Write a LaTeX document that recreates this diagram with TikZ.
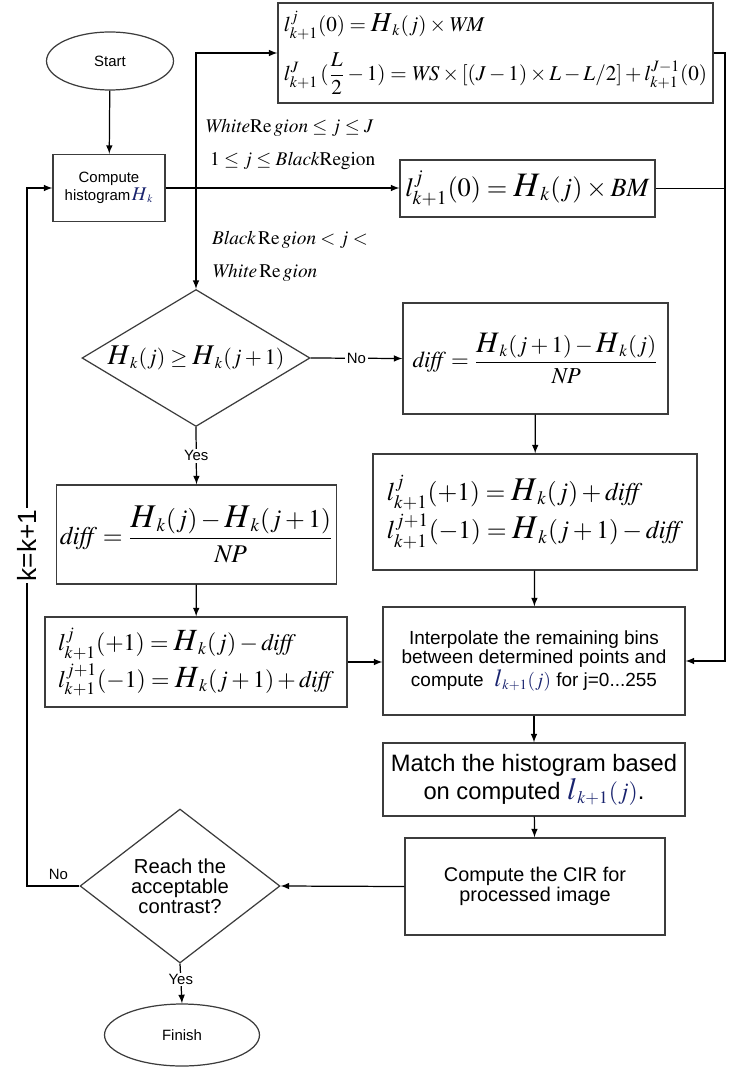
\documentclass[tikz,border=0pt]{standalone}
\usepackage{amsmath,amssymb}
\usepackage{mathptmx}
\usepackage[no-math]{fontspec}
\setmainfont{Liberation Sans}
\usetikzlibrary{shapes.geometric,arrows,positioning,calc}
\definecolor{boxline}{RGB}{60,60,60}
\definecolor{mathnavy}{RGB}{25,35,110}
\newcommand{\Hbig}{\scalebox{1.3}{$H$}}
\newcommand{\lkk}[1]{l^{#1}_{k+1}}
\newcommand{\dif}{\mathit{diff}}
\newcommand{\fs}[1]{\fontsize{#1}{#1}\selectfont}

\begin{document}
\begin{tikzpicture}[x=0.02cm,y=-0.02cm,>=latex,
  box/.style={rectangle,draw=boxline,line width=0.7pt,align=center,inner sep=2pt},
  term/.style={ellipse,draw=boxline,line width=0.7pt,inner sep=0pt,font=\fs{8.5}},
  decide/.style={diamond,draw=boxline,line width=0.7pt,align=center,inner sep=-2pt},
  cond/.style={anchor=west,inner sep=1pt,font=\fs{11}},
  yn/.style={fill=white,inner sep=1pt,font=\fs{8.5}},
  flow/.style={->,line width=0.7pt}
]
\useasboundingbox (0,0) rectangle (738,1067);

% left column
\node[term,minimum width=2.54cm,minimum height=1.16cm] (start) at (110,61) {Start};
\node[box,minimum width=2.24cm,minimum height=1.34cm,font=\fs{8.5}] (hist) at (109,188)
  {Compute\\histogram\textcolor{mathnavy}{$\,\Hbig_{k}$}};
\node[decide,aspect=1.66,minimum width=4.56cm,minimum height=2.74cm,font=\fs{12.5}] (cmpj) at (196,358)
  {$\Hbig_k(j)\ge \Hbig_k(j+1)$};
\node[box,minimum width=5.46cm,minimum height=1.98cm,font=\fs{14.5}] (diffy) at (196.5,534.5)
  {$\dif=\dfrac{\Hbig_k(j)-\Hbig_k(j+1)}{\mathit{NP}}$};
\node[box,minimum width=6.04cm,minimum height=1.8cm,align=left,font=\fs{13.5}] (updy) at (196,662)
  {$\lkk{j}(+1)=\Hbig_k(j)-\dif$\\[1pt]$\lkk{j+1}(-1)=\Hbig_k(j+1)+\dif$};
\node[decide,aspect=1.3,minimum width=4.0cm,minimum height=3.08cm,font=\fs{11.5}] (accept) at (180,886)
  {Reach the\\acceptable\\contrast?};
\node[term,minimum width=3.1cm,minimum height=1.24cm] (finish) at (182,1035) {Finish};

% right column
\node[box,minimum width=8.7cm,minimum height=2.0cm,align=left,font=\fs{12}] (white) at (495.5,53)
  {$\lkk{j}(0)=\Hbig_k(j)\times \mathit{WM}$\\[6pt]
   $\lkk{J}\,(\dfrac{L}{2}-1)=\mathit{WS}\times[(J-1)\times L-L/2]+\lkk{J-1}(0)$};
\node[box,minimum width=5.1cm,minimum height=1.14cm,font=\fs{15}] (black) at (527.5,188.5)
  {$\lkk{j}(0)=\Hbig_k(j)\times \mathit{BM}$};
\node[box,minimum width=5.3cm,minimum height=2.22cm,font=\fs{13}] (diffn) at (535.5,358.5)
  {$\dif=\dfrac{\Hbig_k(j+1)-\Hbig_k(j)}{\mathit{NP}}$};
\node[box,minimum width=6.48cm,minimum height=2.32cm,align=left,font=\fs{14.5}] (updn) at (535,512)
  {$\lkk{j}(+1)=\Hbig_k(j)+\dif$\\[1pt]$\lkk{j+1}(-1)=\Hbig_k(j+1)-\dif$};
\node[box,minimum width=6.04cm,minimum height=2.16cm,font=\fs{10.8}] (interp) at (534,661)
  {Interpolate the remaining bins\\between determined points and\\
   compute \ \textcolor{mathnavy}{$\scalebox{1.3}{$l$}_{k+1}(j)$} for j=0...255};
\node[box,minimum width=6.04cm,minimum height=1.46cm,font=\fs{13.5}] (match) at (534,779.5)
  {Match the histogram based\\on computed \textcolor{mathnavy}{$\scalebox{1.3}{$l$}_{k+1}(j)$}.};
\node[box,minimum width=5.2cm,minimum height=1.94cm,font=\fs{11.3}] (cir) at (535,886.5)
  {Compute the CIR for\\processed image};

% range conditions
\node[cond] (wcond) at (203,128) {$\mathit{White}\mathrm{Re}\,\mathit{gion}\le j\le J$};
\node[cond] (bcond) at (208,161) {$1\le j\le \mathit{Black}\mathrm{Region}$};
\node[cond] (mcond1) at (210,240) {$\mathit{Black}\,\mathrm{Re}\,\mathit{gion}<j<$};
\node[cond] (mcond2) at (210,273) {$\mathit{White}\,\mathrm{Re}\,\mathit{gion}$};

\coordinate (split) at (cmpj.north |- hist.east);
\coordinate (rbus) at (725,661);
\coordinate (lbus) at (27,886);

\draw[flow] (start) -- (hist);
\draw[flow] (hist.east) -- (hist.east -| black.west);
\draw[flow] (split) |- (white.west);
\draw[flow] (split) -- (cmpj.north);
\draw[line width=0.7pt] (black.east) -- (black.east -| rbus);
\draw[flow] (white.east) -| (rbus) -- (interp.east);
\draw[flow] (cmpj.east) -- node[yn]{No} (diffn.west);
\draw[flow] (cmpj.south) -- node[yn]{Yes} (diffy.north);
\draw[flow] (diffn) -- (updn);
\draw[flow] (updn) -- (interp);
\draw[flow] (diffy) -- (updy);
\draw[flow] (updy.east) -- (updy.east -| interp.west);
\draw[flow] (interp) -- (match);
\draw[flow] (match) -- (cir);
\draw[flow] (cir.west) -- (accept.east);
\draw[flow] (accept.south) -- node[yn,pos=0.4]{Yes} (finish.north);
\draw[flow] (accept.west) -- node[above,pos=0.4,font=\fs{8.5}]{No} (lbus)
  |- node[pos=0.244,fill=white,inner sep=1pt,rotate=90,font=\fs{15}]{k=k+1} (hist.west);
\end{tikzpicture}
\end{document}
